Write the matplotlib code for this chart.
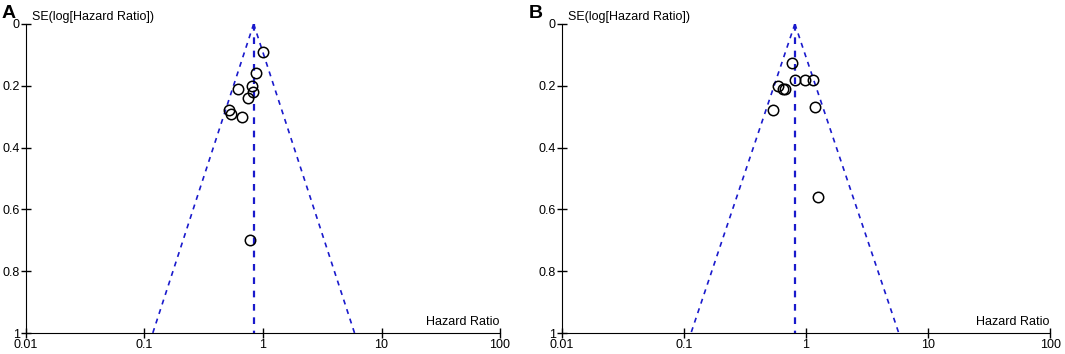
import matplotlib.pyplot as plt
import numpy as np

plt.rcParams['font.family'] = ['Liberation Sans', 'DejaVu Sans']

# panel A
hr_a = [1.00, 0.87, 0.61, 0.80, 0.82, 0.75, 0.52, 0.54, 0.66, 0.78]
se_a = [0.09, 0.16, 0.21, 0.20, 0.22, 0.24, 0.28, 0.29, 0.30, 0.70]
pooled_a = 0.834

# panel B
hr_b = [0.77, 0.81, 0.975, 1.15, 0.59, 0.65, 0.67, 0.54, 1.19, 1.25]
se_b = [0.125, 0.18, 0.18, 0.18, 0.20, 0.21, 0.21, 0.28, 0.27, 0.56]
pooled_b = 0.81

xticks = [0.01, 0.1, 1, 10, 100]
xlabels = ['0.01', '0.1', '1', '10', '100']
yticks = [0, 0.2, 0.4, 0.6, 0.8, 1]
ylabels = ['0', '0.2', '0.4', '0.6', '0.8', '1']

blue = '#1a1acc'

fig = plt.figure(figsize=(10.65, 3.54), dpi=100)
ax_a = fig.add_axes([0.0244, 0.0593, 0.4451, 0.873])
ax_b = fig.add_axes([0.5277, 0.0593, 0.4583, 0.873])


def funnel(ax, hr, se, pooled):
    ax.set_xscale('log')
    ax.set_xlim(0.01, 100)
    ax.set_ylim(1, 0)
    se_line = np.array([0, 1])
    lo = np.exp(np.log(pooled) - 1.96 * se_line)
    hi = np.exp(np.log(pooled) + 1.96 * se_line)
    ax.plot(lo, se_line, color=blue, ls=(0, (3, 3)), lw=1.2)
    ax.plot(hi, se_line, color=blue, ls=(0, (3, 3)), lw=1.2)
    ax.plot([pooled, pooled], [0, 1], color=blue, ls=(0, (3, 3)), lw=1.6)
    ax.plot(hr, se, 'o', mfc='none', mec='black', ms=7.5, mew=1.1)

    ax.spines['top'].set_visible(False)
    ax.spines['right'].set_visible(False)
    ax.set_xticks(xticks)
    ax.set_xticklabels(xlabels)
    ax.minorticks_off()
    ax.set_yticks(yticks)
    ax.set_yticklabels(ylabels)
    ax.tick_params(direction='inout', length=7, width=1, labelsize=9, pad=1)
    ax.annotate('SE(log[Hazard Ratio])', xy=(0, 1), xycoords='axes fraction',
                xytext=(4, 3), textcoords='offset points',
                fontsize=9, va='baseline', ha='left')
    ax.text(98, 0.985, 'Hazard Ratio', fontsize=9, va='bottom', ha='right')


funnel(ax_a, hr_a, se_a, pooled_a)
funnel(ax_b, hr_b, se_b, pooled_b)

fig.text(2 / 1065, 1 - 17.5 / 354, 'A', fontsize=14, fontweight='bold',
         va='baseline', ha='left')
fig.text(529 / 1065, 1 - 17.5 / 354, 'B', fontsize=14, fontweight='bold',
         va='baseline', ha='left')

fig.savefig('out.png', dpi=100)
